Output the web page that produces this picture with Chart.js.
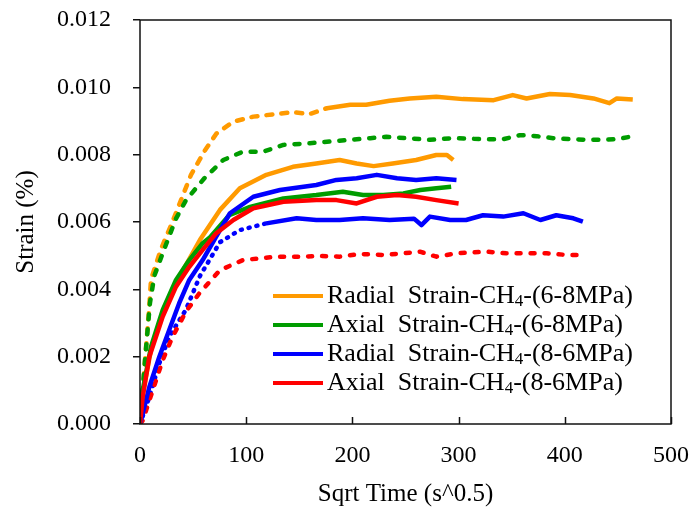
<!DOCTYPE html>
<html>
<head>
<meta charset="utf-8">
<script src="https://cdn.jsdelivr.net/npm/chart.js@4.4.1/dist/chart.umd.min.js"></script>
<style>
  html, body { margin: 0; padding: 0; background: #fff; }
  #wrap { width: 694px; height: 509px; }
</style>
</head>
<body>
<div id="wrap"><canvas id="strainChart" width="694" height="509"></canvas></div>
<script>
// ---- data (x = sqrt time, y = strain) ----
const xTicks = [0, 100, 200, 300, 400, 500];
const yTicks = [0, 0.002, 0.004, 0.006, 0.008, 0.010, 0.012];

const legendNames = [
    ['Radial  Strain-CH', '4', '-(6-8MPa)'],
    ['Axial  Strain-CH', '4', '-(6-8MPa)'],
    ['Radial  Strain-CH', '4', '-(8-6MPa)'],
    ['Axial  Strain-CH', '4', '-(8-6MPa)']
];

// solid curves
const radial68X = [0, 2.5, 10.4, 21.4, 33.9, 46.4, 56.5, 75.3, 94, 119, 144, 166, 188, 204, 220, 238, 260, 279, 289, 295];
const radial68Y = [0, 0.0009, 0.0022, 0.0033, 0.0042, 0.0049, 0.00547, 0.00636, 0.0070, 0.0074, 0.00764, 0.00774, 0.00784, 0.00774, 0.00766, 0.00774, 0.00784, 0.00799, 0.00799, 0.00784];

const axial68X = [0, 2.5, 10.4, 21.4, 33.9, 46.4, 59, 66, 84, 103.6, 135, 166, 191, 210, 229, 248, 264, 279, 293];
const axial68Y = [0, 0.0010, 0.0023, 0.00339, 0.00428, 0.00487, 0.00537, 0.00555, 0.0062, 0.00645, 0.0067, 0.0068, 0.0069, 0.0068, 0.0068, 0.00685, 0.00695, 0.0070, 0.00705];

const radial86X = [0, 8.8, 18.2, 27.6, 36.8, 46.4, 59, 71.6, 84.7, 106.7, 131.8, 166, 185, 204, 223, 242, 260, 279, 298];
const radial86Y = [0, 0.0011, 0.0020, 0.0028, 0.00358, 0.00428, 0.00487, 0.00556, 0.00626, 0.00675, 0.00695, 0.0071, 0.00725, 0.0073, 0.0074, 0.0073, 0.00725, 0.0073, 0.00725];

const axial86X = [0, 2.5, 8.8, 21.4, 33.9, 46.4, 59, 71.6, 87.9, 106.7, 135, 166, 185, 204, 223, 242, 260, 279, 300];
const axial86Y = [0, 0.0008, 0.0020, 0.00319, 0.00408, 0.00467, 0.00517, 0.00566, 0.00606, 0.00641, 0.0066, 0.00665, 0.00665, 0.00655, 0.00675, 0.0068, 0.00675, 0.00665, 0.00655];

// dashed curves
const radial68DX = [0, 2.5, 5.5, 8.5, 10.4, 19.8, 29.2, 38.6, 48, 60.6, 72, 88, 106.7, 128.7, 144, 160, 176, 198, 213, 235, 254, 279, 304, 333, 351, 364, 386, 405, 427, 442, 449, 464];
const radial68DY = [0, 0.001, 0.0022, 0.0034, 0.0043, 0.0052, 0.0059, 0.00665, 0.0074, 0.0081, 0.00863, 0.00898, 0.00913, 0.00921, 0.00926, 0.00921, 0.00938, 0.00948, 0.00948, 0.0096, 0.00967, 0.00972, 0.00965, 0.00962, 0.00977, 0.00967, 0.0098, 0.00977, 0.00967, 0.00953, 0.00967, 0.00964];

const axial68DX = [0, 2.5, 5, 7.2, 9.4, 13.5, 22.9, 33.9, 43.3, 60.6, 78.4, 97, 116, 135, 160, 179, 198, 217, 232, 251, 273, 295, 323, 342, 358, 373.5, 389, 405, 421, 436, 449, 461];
const axial68DY = [0, 0.001, 0.002, 0.0028, 0.0036, 0.0044, 0.0052, 0.0061, 0.00665, 0.0073, 0.00784, 0.00809, 0.00809, 0.00829, 0.00834, 0.00839, 0.00844, 0.00849, 0.00853, 0.00849, 0.00844, 0.00849, 0.00846, 0.00846, 0.00858, 0.00855, 0.00849, 0.00846, 0.00844, 0.00844, 0.00846, 0.00853];

const radial86DX = [0, 8.8, 18.2, 27.6, 43.3, 56.5, 75.3, 94, 119, 147.5, 166, 188, 210, 235, 258, 265, 273, 292, 307, 323, 342, 361, 377, 392, 408, 417];
const radial86DY = [0, 0.0008, 0.0018, 0.0026, 0.0034, 0.0044, 0.0054, 0.00576, 0.00596, 0.00611, 0.00606, 0.00606, 0.00611, 0.00606, 0.0061, 0.00591, 0.00616, 0.00606, 0.00606, 0.0062, 0.00616, 0.00626, 0.00606, 0.0062, 0.00611, 0.00601];

const axial86DX = [0, 2.5, 12, 21.4, 30.8, 43.3, 55.8, 75.3, 97, 128.7, 154, 169.5, 188, 207, 229, 248, 263.6, 279, 298, 326, 345, 364, 383, 402, 417];
const axial86DY = [0, 0.0001, 0.001, 0.0019, 0.0026, 0.00334, 0.00388, 0.00457, 0.00487, 0.00497, 0.00497, 0.00499, 0.00497, 0.00505, 0.00502, 0.00507, 0.00512, 0.00497, 0.00507, 0.00512, 0.00507, 0.00507, 0.00507, 0.00502, 0.00502];

const ORANGE = '#FF9A00';
const GREEN = '#009C00';
const BLUE = '#0000FF';
const RED = '#FF0000';
const FONT = '"Liberation Serif", "Times New Roman", serif';

function pts(xs, ys) {
    return xs.map((x, i) => ({ x: x, y: ys[i] }));
}

function series(data, color, dash, order) {
    return {
        data: data,
        borderColor: color,
        backgroundColor: color,
        borderWidth: 4.5,
        pointRadius: 0,
        tension: 0,
        borderDash: dash || [],
        borderCapStyle: dash ? 'round' : 'butt',
        borderJoinStyle: 'round',
        order: order
    };
}

// the dense noisy tail of some dashed curves reads as a solid line in the original
function dashedPair(xs, ys, color, dash, solidAfter, order) {
    const all = pts(xs, ys);
    let cut = all.findIndex(p => p.x >= solidAfter);
    if (cut < 0) cut = all.length - 1;
    const out = [series(all.slice(0, cut + 1), color, dash, order)];
    if (cut < all.length - 1) out.push(series(all.slice(cut), color, null, order));
    return out;
}

// box, inward x ticks and the legend
const frameAndLegend = {
    id: 'frameAndLegend',
    afterDraw(chart) {
        const { ctx, chartArea: a } = chart;
        const xs = chart.scales.x;
        ctx.save();
        ctx.strokeStyle = '#111';
        ctx.lineWidth = 1.5;
        ctx.strokeRect(a.left, a.top, a.right - a.left, a.bottom - a.top);
        ctx.beginPath();
        xTicks.forEach(v => {
            const px = Math.round(xs.getPixelForValue(v)) + 0.5;
            ctx.moveTo(px, a.bottom);
            ctx.lineTo(px, a.bottom - 7);
        });
        ctx.stroke();

        const colors = [ORANGE, GREEN, BLUE, RED];
        const rowY = [296, 325, 354, 383];
        legendNames.forEach((parts, i) => {
            const y = rowY[i];
            ctx.strokeStyle = colors[i];
            ctx.lineWidth = 4;
            ctx.beginPath();
            ctx.moveTo(273, y);
            ctx.lineTo(323, y);
            ctx.stroke();

            ctx.fillStyle = '#000';
            ctx.textBaseline = 'middle';
            ctx.textAlign = 'left';
            let tx = 327;
            ctx.font = '26px ' + FONT;
            ctx.fillText(parts[0], tx, y);
            tx += ctx.measureText(parts[0]).width;
            ctx.font = '17px ' + FONT;
            ctx.fillText(parts[1], tx, y + 6);
            tx += ctx.measureText(parts[1]).width;
            ctx.font = '26px ' + FONT;
            ctx.fillText(parts[2], tx, y);
        });
        ctx.restore();
    }
};

new Chart(document.getElementById('strainChart'), {
    type: 'line',
    data: {
        datasets: [
            ...dashedPair(radial68DX, radial68DY, ORANGE, [6, 9], 175, 8),
            ...dashedPair(axial68DX, axial68DY, GREEN, [5, 10], 9999, 7),
            ...dashedPair(radial86DX, radial86DY, BLUE, [1, 7], 115, 6),
            ...dashedPair(axial86DX, axial86DY, RED, [4, 10], 9999, 5),
            series(pts(radial68X, radial68Y), ORANGE, null, 4),
            series(pts(axial68X, axial68Y), GREEN, null, 3),
            series(pts(radial86X, radial86Y), BLUE, null, 2),
            series(pts(axial86X, axial86Y), RED, null, 1)
        ]
    },
    options: {
        responsive: false,
        animation: false,
        layout: { padding: { left: 0, right: 23, top: 20, bottom: 0 } },
        plugins: { legend: { display: false }, tooltip: { enabled: false } },
        scales: {
            x: {
                type: 'linear',
                min: 0,
                max: 500,
                afterFit: s => { s.height = 85; s.paddingLeft = 0; s.paddingRight = 0; },
                afterBuildTicks: s => { s.ticks = xTicks.map(v => ({ value: v })); },
                grid: { display: false, drawTicks: false },
                border: { display: false },
                ticks: { color: '#000', font: { family: FONT, size: 24 }, padding: 17, maxRotation: 0 },
                title: {
                    display: true,
                    text: 'Sqrt Time (s^0.5)',
                    color: '#000',
                    font: { family: FONT, size: 25 },
                    padding: { top: 0, bottom: 0 }
                }
            },
            y: {
                min: 0,
                max: 0.012,
                afterFit: s => { s.width = 140; s.paddingTop = 0; s.paddingBottom = 0; },
                afterBuildTicks: s => { s.ticks = yTicks.map(v => ({ value: v })); },
                grid: { drawOnChartArea: false, drawTicks: true, tickLength: 7, color: '#111', lineWidth: 1.5 },
                border: { display: false },
                ticks: {
                    color: '#000',
                    font: { family: FONT, size: 24 },
                    padding: 22,
                    callback: v => v.toFixed(3)
                },
                title: {
                    display: true,
                    text: 'Strain (%)',
                    color: '#000',
                    font: { family: FONT, size: 25 },
                    padding: { top: 11, bottom: 0 }
                }
            }
        }
    },
    plugins: [frameAndLegend]
});
</script>
</body>
</html>
